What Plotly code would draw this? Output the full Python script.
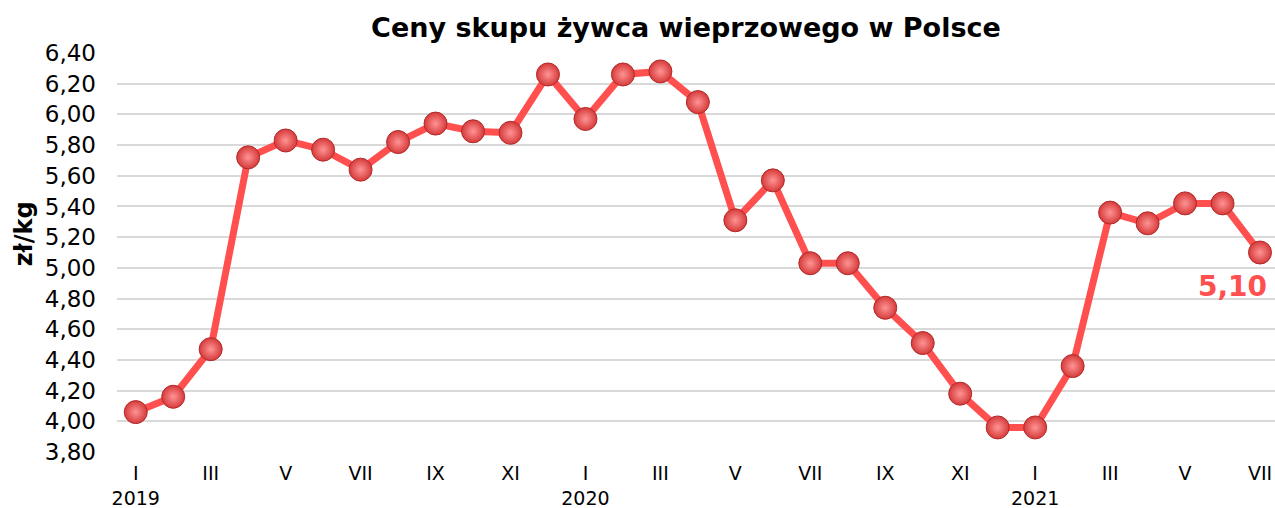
import plotly.graph_objects as go

months = list(range(31))
prices = [4.06, 4.16, 4.47, 5.72, 5.83, 5.77, 5.64, 5.82, 5.94, 5.89, 5.88, 6.26,
          5.97, 6.26, 6.28, 6.08, 5.31, 5.57, 5.03, 5.03, 4.74, 4.51, 4.18, 3.96,
          3.96, 4.36, 5.36, 5.29, 5.42, 5.42, 5.10]
tick_pos = [0, 2, 4, 6, 8, 10, 12, 14, 16, 18, 20, 22, 24, 26, 28, 30]
tick_text = ["I<br>2019", "III", "V", "VII", "IX", "XI", "I<br>2020", "III", "V", "VII", "IX", "XI",
             "I<br>2021", "III", "V", "VII"]
y_ticks = [3.8, 4.0, 4.2, 4.4, 4.6, 4.8, 5.0, 5.2, 5.4, 5.6, 5.8, 6.0, 6.2, 6.4]
y_tick_text = [f"{v:.2f}".replace(".", ",") for v in y_ticks]

fig = go.Figure()
fig.add_trace(go.Scatter(
    x=months, y=prices, mode="lines+markers",
    line=dict(color="#ff4f4f", width=7),
    marker=dict(size=23, color="#d63a3a",
                gradient=dict(type="radial", color="#ff9494"),
                line=dict(color="#b02a2a", width=1)),
    showlegend=False, cliponaxis=False,
))

fig.add_annotation(x=months[-1], y=prices[-1], text="<b>5,10</b>", showarrow=False,
                   xshift=-28, yshift=-34,
                   font=dict(family="DejaVu Sans", size=28, color="#ff4f4f"))

fig.add_annotation(xref="paper", yref="paper", x=-0.0803, y=0.546, text="<b>zł/kg</b>",
                   textangle=-90, showarrow=False, xanchor="center", yanchor="middle",
                   font=dict(family="DejaVu Sans", size=24, color="#000"))

fig.update_layout(
    width=1275, height=508,
    margin=dict(l=117, r=0, t=53, b=56),
    paper_bgcolor="white", plot_bgcolor="white",
    font=dict(family="DejaVu Sans", color="#000000"),
    title=dict(text="<b>Ceny skupu żywca wieprzowego w Polsce</b>", x=0.538, xanchor="center",
               y=0.945, yanchor="middle", font=dict(family="DejaVu Sans", size=27, color="#000")),
    xaxis=dict(range=[-0.5, 30.4], tickmode="array", tickvals=tick_pos, ticktext=tick_text,
               showgrid=False, zeroline=False, showline=False, ticks="", automargin=False,
               tickfont=dict(size=19), ticklabelstandoff=8),
    yaxis=dict(range=[3.8, 6.4], tickmode="array", tickvals=y_ticks, ticktext=y_tick_text,
               showgrid=True, gridcolor="#d9d9d9", gridwidth=2, zeroline=False, automargin=False,
               showline=False, ticks="", tickfont=dict(size=23), ticklabelstandoff=20),
)

fig.write_html("out.html", config={"displayModeBar": False},
               post_script="document.body.style.margin='0';")
